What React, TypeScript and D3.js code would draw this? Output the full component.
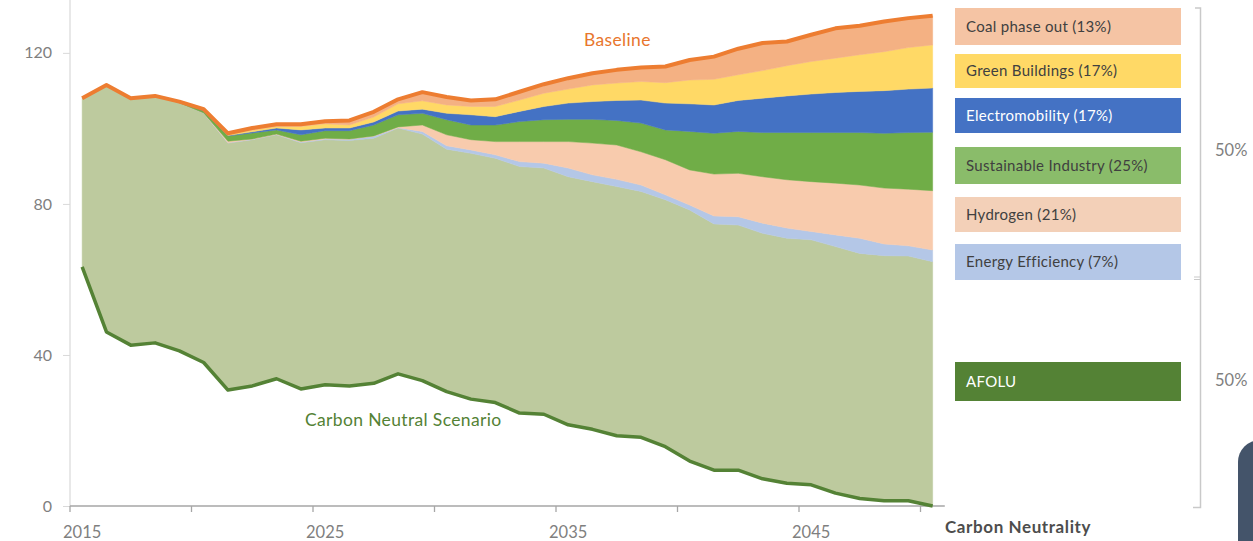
import React, { useEffect, useRef } from "react";
import * as d3 from "d3";

// categories
const years = d3.range(2015, 2051);

// emissions (bottom to top of the stack)
const carbonNeutral = [63.3, 46.1, 42.6, 43.2, 41.1, 38.0, 30.7, 31.8, 33.7, 31.0, 32.1, 31.8, 32.5, 35.0, 33.2, 30.3, 28.3, 27.4, 24.6, 24.3, 21.5, 20.3, 18.6, 18.2, 15.7, 11.9, 9.5, 9.5, 7.2, 6.0, 5.6, 3.4, 2.0, 1.4, 1.4, 0.0];
const afolu = [44.7, 65.4, 65.4, 65.4, 65.6, 66.0, 65.4, 65.2, 64.6, 65.2, 64.9, 65.0, 64.9, 65.1, 65.3, 64.2, 65.1, 64.7, 65.3, 65.2, 65.7, 65.6, 66.0, 65.1, 65.4, 66.5, 65.2, 64.9, 65.0, 64.9, 64.9, 65.3, 64.9, 64.9, 64.8, 64.7];
const efficiency = [0, 0, 0, 0, 0, 0.1, 0.1, 0.1, 0.1, 0.2, 0.2, 0.3, 0.5, 0.1, 0.7, 0.9, 0.9, 0.9, 1.3, 1.3, 2.3, 1.8, 1.9, 1.7, 1.3, 1.3, 2.1, 2.2, 2.7, 2.7, 2.2, 3.1, 4.0, 3.1, 2.7, 3.1];
const hydrogen = [0, 0, 0, 0, 0, 0, 0.4, 0.1, 0.1, 0.2, 0.2, 0.1, 0.1, 0.2, 1.7, 2.9, 2.7, 3.5, 5.3, 5.7, 7.0, 8.4, 9.1, 8.8, 9.3, 9.3, 11.1, 11.5, 12.3, 12.8, 13.2, 13.7, 14.1, 14.8, 15.0, 15.7];
const industry = [0, 0, 0, 0, 0.4, 0.5, 1.4, 1.6, 1.1, 1.7, 2.0, 2.2, 2.9, 3.2, 3.1, 4.0, 3.9, 4.4, 5.3, 5.8, 5.9, 6.3, 6.5, 7.6, 7.9, 10.2, 10.8, 11.1, 11.7, 12.5, 13.0, 13.4, 13.9, 14.5, 15.0, 15.5];
const emobility = [0, 0, 0, 0, 0, 0.2, 0.1, 0.3, 0.5, 1.3, 0.7, 0.7, 0.8, 1.0, 1.1, 1.7, 2.7, 2.2, 2.7, 3.5, 4.3, 4.7, 5.3, 6.1, 7.1, 7.3, 7.5, 8.2, 9.1, 9.7, 10.2, 10.6, 10.9, 11.3, 11.5, 11.7];
const buildings = [0, 0, 0, 0, 0, 0.1, 0.3, 0.4, 0.4, 0.9, 1.1, 0.8, 1.3, 1.9, 2.2, 2.2, 2.2, 2.7, 3.0, 3.5, 3.7, 4.4, 4.6, 4.9, 5.4, 6.3, 6.8, 6.8, 7.3, 8.0, 8.6, 9.1, 9.7, 10.3, 11.0, 11.4];
const coal = [0, 0, 0, 0, 0, 0.2, 0.3, 0.6, 0.6, 0.6, 0.7, 1.2, 1.4, 1.2, 2.3, 2.1, 1.6, 1.9, 2.2, 2.4, 2.9, 3.1, 3.5, 3.7, 4.3, 5.3, 6.0, 6.9, 7.3, 6.4, 7.1, 7.9, 7.7, 8.0, 7.8, 7.7];

const yTicks = [0, 40, 80, 120];
const xLabelYears = [2015, 2025, 2035, 2045];

const legendLabels = ["Coal phase out (13%)", "Green Buildings (17%)", "Electromobility (17%)", "Sustainable Industry (25%)", "Hydrogen (21%)", "Energy Efficiency (7%)", "AFOLU"];
const bracketLabels = ["50%", "50%"];

const keys = ["cn", "afolu", "eff", "h2", "ind", "emob", "bld", "coal"];
const areaColors = { cn: "none", afolu: "#BDCA9E", eff: "#B4C7E7", h2: "#F8CBAD", ind: "#70AD47", emob: "#4472C4", bld: "#FFD966", coal: "#F4B183" };
const legendFill = ["#F5C4A4", "#FFD966", "#4472C4", "#8ABC6A", "#F3D0B8", "#B4C7E7", "#548235"];
const legendText = ["#404040", "#404040", "#ffffff", "#404040", "#404040", "#404040", "#ffffff"];
const legendTop = [8, 54, 98, 147, 197, 244, 362];
const legendH = [37, 34, 35, 37, 35, 36, 39];

const FONT = "Lato, 'Liberation Sans', sans-serif";

export default function App() {
  const ref = useRef(null);

  useEffect(() => {
    var svg = d3.select(ref.current);
    svg.selectAll("*").remove();

    var rows = years.map((yr, i) => ({
      year: yr,
      cn: carbonNeutral[i],
      afolu: afolu[i],
      eff: efficiency[i],
      h2: hydrogen[i],
      ind: industry[i],
      emob: emobility[i],
      bld: buildings[i],
      coal: coal[i],
    }));

    var left = 70, bottom = 506, right = 944.8;
    var xBand = d3.scaleBand().domain(years).range([left, right]).padding(0);
    var xc = (yr) => xBand(yr) + xBand.bandwidth() / 2;
    var y = d3.scaleLinear().domain([0, 134]).range([bottom, 0]);

    var stacked = d3.stack().keys(keys)(rows);

    var area = d3
      .area()
      .x((d) => xc(d.data.year))
      .y0((d) => y(d[0]))
      .y1((d) => y(d[1]));

    var g = svg.append("g");
    g.selectAll(".layer")
      .data(stacked.filter((s) => s.key !== "cn"))
      .join("path")
      .attr("class", "layer")
      .attr("d", area)
      .attr("fill", (s) => areaColors[s.key])
      .attr("stroke", (s) => areaColors[s.key])
      .attr("stroke-width", 0.5);

    // y axis
    var yAxis = svg
      .append("g")
      .attr("transform", `translate(${left},0)`)
      .call(d3.axisLeft(y).tickValues(yTicks).tickSize(7).tickPadding(11).tickFormat(d3.format("d")));
    yAxis.select(".domain").remove();
    yAxis.selectAll(".tick line").attr("stroke", "#d9d9d9");
    yAxis
      .selectAll(".tick text")
      .attr("fill", "#7f7f7f")
      .style("font-family", FONT)
      .style("font-size", "16px");
    svg.append("line").attr("x1", left).attr("x2", left).attr("y1", 0).attr("y2", bottom).attr("stroke", "#d9d9d9").attr("stroke-width", 1.2);

    // x axis: ticks between categories every 5 years, labels every 10
    svg.append("line").attr("x1", left).attr("x2", right).attr("y1", bottom).attr("y2", bottom).attr("stroke", "#a6a6a6").attr("stroke-width", 1.5);
    var tickYears = years.filter((yr) => (yr - 2015) % 5 === 0);
    svg
      .selectAll(".xtick")
      .data(tickYears)
      .join("line")
      .attr("class", "xtick")
      .attr("x1", (d) => xBand(d))
      .attr("x2", (d) => xBand(d))
      .attr("y1", bottom)
      .attr("y2", bottom + 6)
      .attr("stroke", "#a6a6a6")
      .attr("stroke-width", 1.3);
    svg
      .selectAll(".xlab")
      .data(xLabelYears)
      .join("text")
      .attr("class", "xlab")
      .attr("x", (d) => xc(d))
      .attr("y", 538)
      .attr("text-anchor", "middle")
      .attr("fill", "#7f7f7f")
      .style("font-family", FONT)
      .style("font-size", "16.5px")
      .text((d) => d);

    // lines
    var top = stacked[stacked.length - 1];
    svg
      .append("path")
      .datum(top)
      .attr("d", d3.line().x((d) => xc(d.data.year)).y((d) => y(d[1])))
      .attr("fill", "none")
      .attr("stroke", "#ED7D31")
      .attr("stroke-width", 4)
      .attr("stroke-linejoin", "round");
    svg
      .append("path")
      .datum(stacked[0])
      .attr("d", d3.line().x((d) => xc(d.data.year)).y((d) => y(d[1])))
      .attr("fill", "none")
      .attr("stroke", "#548235")
      .attr("stroke-width", 3.5)
      .attr("stroke-linejoin", "round");

    svg.append("text").attr("x", 584).attr("y", 46).attr("fill", "#E8762D").style("font-family", FONT).style("font-size", "17.5px").style("letter-spacing", "0.35px").text("Baseline");
    svg.append("text").attr("x", 305).attr("y", 426).attr("fill", "#548235").style("font-family", FONT).style("font-size", "17.5px").style("letter-spacing", "0.35px").text("Carbon Neutral Scenario");
    svg.append("text").attr("x", 945).attr("y", 533).attr("fill", "#4d4d4d").style("font-family", FONT).style("font-size", "17px").style("letter-spacing", "0.6px").style("font-weight", "bold").text("Carbon Neutrality");

    // legend boxes
    var leg = svg
      .selectAll(".leg")
      .data(legendLabels)
      .join("g")
      .attr("class", "leg")
      .attr("transform", (d, i) => `translate(955,${legendTop[i]})`);
    leg
      .append("rect")
      .attr("width", 226)
      .attr("height", (d, i) => legendH[i])
      .attr("fill", (d, i) => legendFill[i]);
    leg
      .append("text")
      .attr("x", 11)
      .attr("y", (d, i) => legendH[i] / 2)
      .attr("dy", "0.35em")
      .attr("fill", (d, i) => legendText[i])
      .style("font-family", FONT)
      .style("font-size", "15px")
      .style("letter-spacing", "0.3px")
      .text((d) => d);

    // bracket on the right
    svg
      .append("path")
      .attr("d", "M1195,8H1200.5V507.5H1193")
      .attr("fill", "none")
      .attr("stroke", "#c9c9c9")
      .attr("stroke-width", 1.5);
    svg.append("line").attr("x1", 1194).attr("x2", 1200).attr("y1", 277).attr("y2", 277).attr("stroke", "#c9c9c9");
    svg.append("line").attr("x1", 1194).attr("x2", 1200).attr("y1", 279.5).attr("y2", 279.5).attr("stroke", "#c9c9c9");
    svg
      .selectAll(".pct")
      .data(bracketLabels)
      .join("text")
      .attr("class", "pct")
      .attr("x", 1215)
      .attr("y", (d, i) => (i === 0 ? 156 : 386))
      .attr("fill", "#7f7f7f")
      .style("font-family", FONT)
      .style("font-size", "16.5px")
      .text((d) => d);

    // dark shape in the corner
    svg.append("rect").attr("x", 1238).attr("y", 440).attr("width", 60).attr("height", 140).attr("rx", 22).attr("fill", "#44546A");
  }, []);

  return (
    <svg
      ref={ref}
      width={1253}
      height={541}
      style={{ position: "absolute", left: 0, top: 0, background: "#fff" }}
    />
  );
}
